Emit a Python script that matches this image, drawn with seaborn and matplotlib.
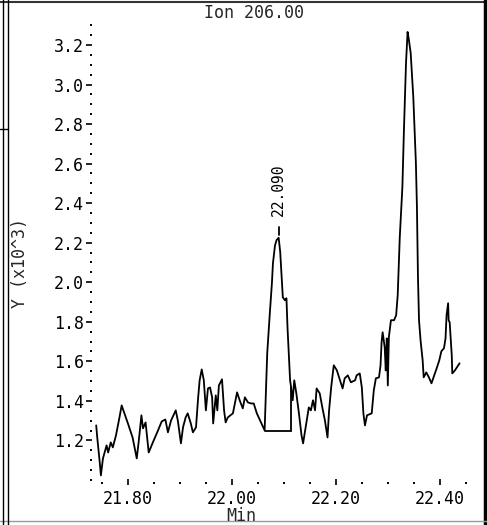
import numpy as np
import pandas as pd
import seaborn as sns
import matplotlib.pyplot as plt
from matplotlib.lines import Line2D
from matplotlib.ticker import MultipleLocator, FormatStrFormatter

tiempo = [21.739, 21.741, 21.746, 21.748, 21.752, 21.759, 21.762, 21.767, 21.771, 21.777,
          21.783, 21.788, 21.790, 21.800, 21.809, 21.817, 21.821, 21.826, 21.829, 21.834,
          21.840, 21.848, 21.858, 21.865, 21.872, 21.877, 21.883, 21.892, 21.896, 21.902,
          21.906, 21.911, 21.915, 21.921, 21.925, 21.931, 21.935, 21.938, 21.942, 21.946,
          21.950, 21.954, 21.958, 21.962, 21.964, 21.969, 21.972, 21.975, 21.981, 21.985,
          21.988, 21.992, 22.002, 22.010, 22.015, 22.021, 22.025, 22.031, 22.037, 22.042,
          22.048, 22.056, 22.063, 22.068, 22.073, 22.077, 22.079, 22.083, 22.086, 22.090,
          22.093, 22.095, 22.098, 22.102, 22.105, 22.107, 22.112, 22.114, 22.117, 22.120,
          22.124, 22.129, 22.134, 22.137, 22.140, 22.144, 22.148, 22.152, 22.156, 22.160,
          22.163, 22.169, 22.174, 22.179, 22.184, 22.187, 22.191, 22.196, 22.202, 22.208,
          22.213, 22.217, 22.223, 22.229, 22.237, 22.240, 22.246, 22.250, 22.253, 22.256,
          22.260, 22.269, 22.273, 22.277, 22.283, 22.286, 22.288, 22.290, 22.294, 22.296,
          22.298, 22.300, 22.302, 22.306, 22.312, 22.316, 22.319, 22.323, 22.328, 22.331,
          22.335, 22.338, 22.340, 22.344, 22.349, 22.354, 22.356, 22.358, 22.360, 22.363,
          22.367, 22.369, 22.374, 22.379, 22.384, 22.388, 22.394, 22.399, 22.403, 22.408,
          22.411, 22.413, 22.416, 22.417, 22.419, 22.423, 22.424, 22.429, 22.438]
intensidad = [1.276, 1.215, 1.084, 1.023, 1.109, 1.175, 1.139, 1.190, 1.165, 1.225,
              1.306, 1.377, 1.362, 1.286, 1.215, 1.109, 1.200, 1.327, 1.261, 1.291,
              1.139, 1.190, 1.251, 1.296, 1.306, 1.241, 1.301, 1.352, 1.301, 1.185,
              1.266, 1.316, 1.337, 1.286, 1.241, 1.266, 1.413, 1.504, 1.559, 1.504,
              1.352, 1.463, 1.468, 1.418, 1.286, 1.428, 1.352, 1.478, 1.509, 1.352,
              1.291, 1.316, 1.337, 1.443, 1.403, 1.362, 1.418, 1.392, 1.387, 1.387,
              1.337, 1.291, 1.251, 1.641, 1.843, 1.995, 2.096, 2.187, 2.213, 2.225,
              2.152, 2.061, 1.924, 1.909, 1.919, 1.772, 1.504, 1.468, 1.403, 1.504,
              1.438, 1.337, 1.225, 1.185, 1.235, 1.301, 1.367, 1.352, 1.403, 1.352,
              1.463, 1.438, 1.367, 1.301, 1.215, 1.352, 1.468, 1.580, 1.554, 1.504,
              1.463, 1.514, 1.529, 1.494, 1.504, 1.529, 1.539, 1.468, 1.337, 1.276,
              1.327, 1.337, 1.453, 1.514, 1.519, 1.580, 1.696, 1.747, 1.671, 1.554,
              1.716, 1.478, 1.722, 1.808, 1.808, 1.833, 1.934, 2.228, 2.481, 2.770,
              3.109, 3.266, 3.235, 3.159, 2.937, 2.603, 2.380, 2.025, 1.808, 1.706,
              1.605, 1.519, 1.544, 1.519, 1.489, 1.519, 1.565, 1.605, 1.651, 1.666,
              1.716, 1.833, 1.894, 1.808, 1.797, 1.630, 1.539, 1.554, 1.590]

pico_tiempo = 22.090
pico_etiqueta = '22.090'
base_inicio = 22.063
base_fin = 22.114
base_nivel = 1.246

xticks = [21.80, 22.00, 22.20, 22.40]
yticks = [1.2, 1.4, 1.6, 1.8, 2.0, 2.2, 2.4, 2.6, 2.8, 3.0, 3.2]

sns.set_theme(style='white')
plt.rcParams['font.family'] = ['DejaVu Sans Mono']

fig = plt.figure(figsize=(4.87, 5.25), dpi=100)
ax = fig.add_axes([0.189, 0.082, 0.776, 0.870])

df = pd.DataFrame({'Min': tiempo, 'Y': intensidad})
sns.lineplot(data=df, x='Min', y='Y', sort=False, estimator=None,
             color='black', lw=1.3, ax=ax)

# Linea base de integracion del pico
ax.plot([base_inicio, base_fin], [base_nivel, base_nivel], color='black', lw=1.3)
ax.plot([base_fin, base_fin], [base_nivel, np.interp(base_fin, tiempo, intensidad)],
        color='black', lw=1.3)

# Marca y etiqueta del pico
ax.plot([pico_tiempo, pico_tiempo], [2.237, 2.28], color='black', lw=1.3)
ax.text(pico_tiempo, 2.335, pico_etiqueta, rotation=90, ha='center', va='bottom',
        fontsize=10.5, color='black')

ax.set_xlim(21.731, 22.458)
ax.set_ylim(0.99, 3.30)
ax.set_xticks(xticks)
ax.set_yticks(yticks)
ax.xaxis.set_major_formatter(FormatStrFormatter('%.2f'))
ax.yaxis.set_major_formatter(FormatStrFormatter('%.1f'))
ax.xaxis.set_minor_locator(MultipleLocator(0.05))
ax.yaxis.set_minor_locator(MultipleLocator(0.05))
for s in ax.spines.values():
    s.set_visible(False)
ax.tick_params(axis='y', which='major', direction='out', length=4, width=1.2,
               color='black', pad=2, labelsize=12, labelcolor='black', left=True)
ax.tick_params(axis='x', which='major', direction='inout', length=4, width=1.2,
               color='black', pad=4, labelsize=12, labelcolor='black', bottom=True)
ax.tick_params(which='minor', direction='out', length=1.2, width=1.4, color='black',
               left=True, bottom=True)
ax.set_xlabel('')
ax.set_ylabel('')
ax.grid(False)

fig.text(0.522, 0.975, 'Ion 206.00', ha='center', va='center', fontsize=12)
fig.text(0.496, 0.018, 'Min', ha='center', va='center', fontsize=12)
fig.text(0.042, 0.50, 'Y (x10^3)', ha='center', va='center', rotation=90, fontsize=12)

# Marco de la ventana
fig.add_artist(Line2D([0, 1], [0.997, 0.997], color='#333333', lw=1.5))
fig.add_artist(Line2D([0.995, 0.995], [0, 1], color='black', lw=2.5))
fig.add_artist(Line2D([0, 1], [0.008, 0.008], color='#999999', lw=1))
fig.add_artist(Line2D([0.006, 0.006], [0, 1], color='black', lw=1))
fig.add_artist(Line2D([0.017, 0.017], [0, 1], color='black', lw=1))
fig.add_artist(Line2D([0, 0.017], [0.754, 0.754], color='black', lw=1))

fig.savefig('out.png', dpi=100)
